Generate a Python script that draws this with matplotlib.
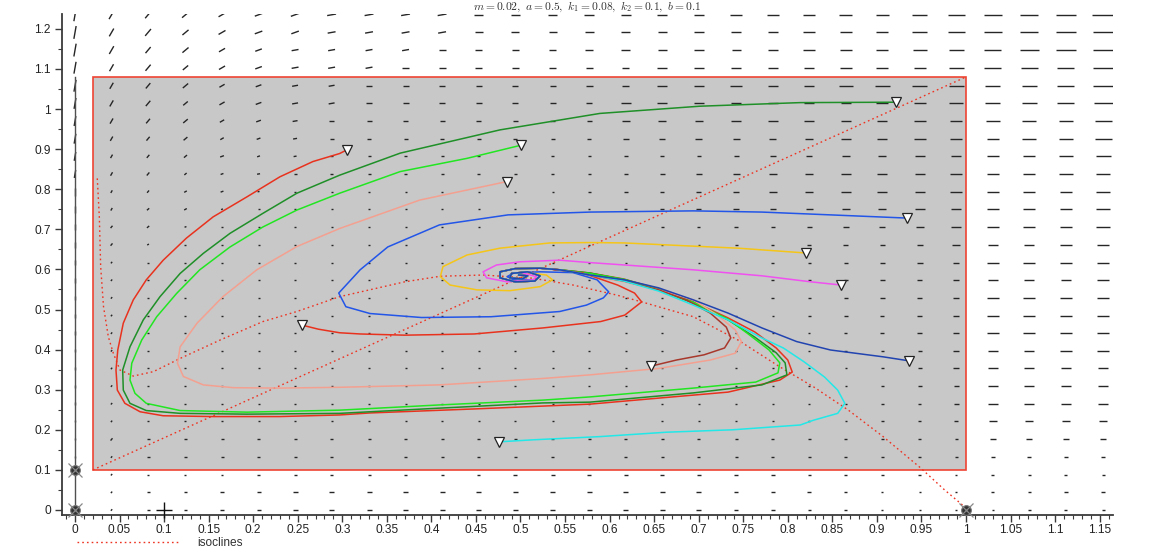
import numpy as np
import matplotlib
matplotlib.use("Agg")
import matplotlib.pyplot as plt
from matplotlib.collections import LineCollection
from matplotlib.lines import Line2D
from matplotlib.patches import Rectangle
from matplotlib.ticker import MultipleLocator, FuncFormatter

plt.rcParams['font.family'] = ['Liberation Sans', 'DejaVu Sans']
plt.rcParams['mathtext.fontset'] = 'cm'

# ---------------- data ----------------
TITLE = r'$m = 0.02,\ a = 0.5,\ k_1 = 0.08,\ k_2 = 0.1,\ b = 0.1$'
LEGEND_LABEL = 'isoclines'

X_TICKS = [0, 0.05, 0.1, 0.15, 0.2, 0.25, 0.3, 0.35, 0.4, 0.45, 0.5, 0.55, 0.6,
           0.65, 0.7, 0.75, 0.8, 0.85, 0.9, 0.95, 1, 1.05, 1.1, 1.15]
Y_TICKS = [0, 0.1, 0.2, 0.3, 0.4, 0.5, 0.6, 0.7, 0.8, 0.9, 1, 1.1, 1.2]

# region box
BOX_X = [0.02, 1.0]
BOX_Y = [0.1, 1.08]

# line at x = 0
VLINE_X = [0, 0]
VLINE_Y = [0, 1.08]

# isoclines
ISO1_X = [0.02, 1.0]
ISO1_Y = [0.1, 1.08]
ISO2_X = [0.025, 0.0273, 0.0288, 0.032, 0.0374, 0.043, 0.0505, 0.0654, 0.0879, 0.118,
          0.163, 0.211, 0.249, 0.297, 0.370, 0.41, 0.458, 0.514, 0.559, 0.608, 0.636,
          0.694, 0.744, 0.791, 0.829, 0.868, 0.907, 0.949, 0.976, 1.0]
ISO2_Y = [0.827, 0.731, 0.607, 0.507, 0.432, 0.391, 0.349, 0.334, 0.345, 0.378,
          0.424, 0.470, 0.495, 0.532, 0.569, 0.583, 0.586, 0.578, 0.561, 0.536, 0.519,
          0.482, 0.424, 0.357, 0.307, 0.249, 0.183, 0.105, 0.05, 0.005]

# shared final spiral near the equilibrium
TAIL_X = [0.544, 0.522, 0.494, 0.477, 0.477, 0.494, 0.516, 0.522, 0.508, 0.490, 0.488, 0.502, 0.508, 0.498]
TAIL_Y = [0.599, 0.603, 0.602, 0.594, 0.579, 0.569, 0.571, 0.584, 0.594, 0.590, 0.579, 0.576, 0.584, 0.586]

RED_A_X = [0.305, 0.297, 0.267, 0.230, 0.193, 0.155, 0.125, 0.099, 0.080, 0.0654, 0.0542, 0.048,
           0.046, 0.0475, 0.056, 0.073, 0.099, 0.155, 0.230, 0.297, 0.331, 0.448, 0.578, 0.655,
           0.733, 0.791, 0.805, 0.800, 0.787, 0.763, 0.733, 0.694, 0.655, 0.616, 0.578]
RED_A_Y = [0.898, 0.889, 0.869, 0.831, 0.781, 0.731, 0.678, 0.623, 0.574, 0.524, 0.466, 0.399,
           0.349, 0.299, 0.266, 0.245, 0.235, 0.233, 0.233, 0.237, 0.242, 0.252, 0.264, 0.279,
           0.294, 0.324, 0.344, 0.374, 0.404, 0.444, 0.479, 0.519, 0.551, 0.576, 0.591]

DKGREEN_X = [0.921, 0.814, 0.701, 0.589, 0.477, 0.365, 0.297, 0.249, 0.211, 0.174, 0.144, 0.118,
             0.0954, 0.0766, 0.0617, 0.0535, 0.0542, 0.0617, 0.080, 0.118, 0.193, 0.297, 0.409,
             0.525, 0.578, 0.694, 0.771, 0.799, 0.797, 0.787, 0.763, 0.733, 0.694, 0.655, 0.617, 0.578]
DKGREEN_Y = [1.017, 1.016, 1.007, 0.989, 0.948, 0.890, 0.835, 0.790, 0.740, 0.690, 0.640, 0.590,
             0.532, 0.474, 0.407, 0.349, 0.299, 0.266, 0.248, 0.241, 0.239, 0.241, 0.254,
             0.267, 0.269, 0.292, 0.312, 0.337, 0.367, 0.392, 0.431, 0.474, 0.516, 0.549, 0.574, 0.591]

GREEN_X = [0.501, 0.440, 0.365, 0.297, 0.249, 0.211, 0.174, 0.140, 0.114, 0.0917, 0.0749, 0.0637,
           0.0617, 0.0673, 0.080, 0.118, 0.193, 0.297, 0.409, 0.525, 0.578, 0.694, 0.764, 0.789,
           0.791, 0.779, 0.755, 0.733, 0.694, 0.655, 0.617, 0.578]
GREEN_Y = [0.910, 0.877, 0.844, 0.790, 0.748, 0.706, 0.656, 0.599, 0.540, 0.482, 0.424, 0.366,
           0.324, 0.291, 0.266, 0.248, 0.244, 0.249, 0.262, 0.274, 0.282, 0.304, 0.319, 0.342,
           0.367, 0.399, 0.440, 0.476, 0.518, 0.550, 0.575, 0.590]

SALMON_X = [0.4845, 0.387, 0.297, 0.249, 0.204, 0.166, 0.137, 0.118, 0.115, 0.1216, 0.144, 0.178,
            0.230, 0.297, 0.409, 0.525, 0.578, 0.655, 0.713, 0.741, 0.748, 0.741, 0.721, 0.694,
            0.655, 0.617, 0.578]
SALMON_Y = [0.819, 0.773, 0.702, 0.657, 0.599, 0.532, 0.466, 0.407, 0.366, 0.333, 0.312, 0.305,
            0.304, 0.306, 0.312, 0.328, 0.337, 0.353, 0.374, 0.391, 0.420, 0.449, 0.486, 0.524,
            0.549, 0.569, 0.584]

MAROON_X = [0.647, 0.675, 0.706, 0.729, 0.736, 0.731, 0.713, 0.686, 0.655, 0.616, 0.578]
MAROON_Y = [0.359, 0.374, 0.387, 0.404, 0.429, 0.456, 0.491, 0.524, 0.549, 0.571, 0.586]

BLUE_X = [0.934, 0.848, 0.771, 0.694, 0.578, 0.486, 0.409, 0.351, 0.320, 0.296, 0.304, 0.331,
          0.389, 0.467, 0.544, 0.574, 0.593, 0.599, 0.586, 0.559, 0.522, 0.492, 0.485, 0.492, 0.514]
BLUE_Y = [0.728, 0.736, 0.743, 0.746, 0.743, 0.736, 0.711, 0.656, 0.599, 0.541, 0.507, 0.490,
          0.480, 0.482, 0.495, 0.511, 0.529, 0.544, 0.574, 0.592, 0.594, 0.591, 0.582, 0.574, 0.574]

YELLOW_X = [0.820, 0.744, 0.694, 0.617, 0.578, 0.533, 0.477, 0.440, 0.413, 0.410, 0.421, 0.451,
            0.488, 0.522, 0.536, 0.529, 0.507]
YELLOW_Y = [0.641, 0.653, 0.658, 0.666, 0.667, 0.666, 0.653, 0.636, 0.607, 0.582, 0.561, 0.549,
            0.547, 0.557, 0.574, 0.586, 0.592]

MAGENTA_X = [0.860, 0.826, 0.771, 0.694, 0.617, 0.578, 0.544, 0.499, 0.473, 0.458, 0.462, 0.485,
             0.514, 0.518, 0.503]
MAGENTA_Y = [0.561, 0.569, 0.584, 0.599, 0.611, 0.617, 0.623, 0.619, 0.611, 0.594, 0.579, 0.569,
             0.574, 0.582, 0.591]

RED_I_X = [0.255, 0.273, 0.297, 0.320, 0.370, 0.448, 0.525, 0.590, 0.617, 0.636, 0.628, 0.609,
           0.570, 0.533]
RED_I_Y = [0.461, 0.451, 0.442, 0.439, 0.436, 0.439, 0.454, 0.470, 0.486, 0.519, 0.541, 0.561,
           0.591, 0.601]

CYAN_X = [0.476, 0.514, 0.589, 0.664, 0.738, 0.814, 0.829, 0.856, 0.864, 0.856, 0.841, 0.818,
          0.795, 0.771, 0.733, 0.694, 0.655, 0.616, 0.578]
CYAN_Y = [0.170, 0.175, 0.183, 0.194, 0.200, 0.212, 0.224, 0.241, 0.266, 0.299, 0.332, 0.370,
          0.404, 0.429, 0.474, 0.511, 0.546, 0.571, 0.586]

NAVY_X = [0.936, 0.907, 0.848, 0.810, 0.771, 0.733, 0.694, 0.655, 0.617, 0.578]
NAVY_Y = [0.372, 0.382, 0.399, 0.420, 0.454, 0.491, 0.524, 0.554, 0.574, 0.586]

# special points
CROSS_PTS_X = [0, 0, 1]
CROSS_PTS_Y = [0, 0.1, 0]
PLUS_X = [0.1]
PLUS_Y = [0]

# direction field: grid, dash lengths (px) and angles (tens of degrees), top row first
FIELD_X = [0, 0.041, 0.082, 0.124, 0.165, 0.206, 0.247, 0.288, 0.330, 0.371, 0.412, 0.453,
           0.494, 0.536, 0.577, 0.618, 0.659, 0.700, 0.742, 0.783, 0.824, 0.865, 0.906, 0.948,
           0.989, 1.030, 1.071, 1.112, 1.154]
FIELD_Y = [0, 0.044, 0.088, 0.132, 0.176, 0.221, 0.265, 0.309, 0.353, 0.397, 0.441, 0.485,
           0.529, 0.573, 0.617, 0.662, 0.706, 0.750, 0.794, 0.838, 0.882, 0.926, 0.970, 1.014,
           1.058, 1.103, 1.147, 1.191, 1.235]
FIELD_LEN = [
    [13,10,9,9,8,8,9,9,9,9,9,9,9,9,10,10,10,10,12,12,12,13,13,15,17,18,18,20,22],
    [13,9,9,8,8,8,8,8,8,8,8,8,8,8,9,9,9,10,10,10,12,12,12,15,17,18,18,20,21],
    [13,9,8,8,7,7,7,7,7,7,7,7,7,7,8,9,9,10,9,10,12,12,12,14,15,17,19,20,21],
    [12,8,8,7,7,7,7,7,7,7,7,7,7,7,7,7,10,10,10,10,10,12,12,12,15,17,17,17,21],
    [12,7,7,7,6,6,6,6,6,6,6,6,6,6,7,7,10,10,12,10,10,14,15,15,15,15,15,17,21],
    [11,7,7,6,6,6,6,6,6,6,6,6,6,6,6,10,10,10,10,10,10,10,12,12,14,15,15,17,19],
    [10,6,6,6,5,5,5,5,5,5,5,5,5,5,5,8,8,8,10,10,10,10,10,12,12,14,14,14,17],
    [10,5,5,5,4,4,4,4,4,4,4,4,4,4,4,6,6,7,7,7,8,10,10,12,12,12,14,14,17],
    [9,4,4,4,4,3,3,3,3,3,3,3,3,3,3,4,4,4,5,6,6,8,8,10,10,12,12,14,15],
    [8,4,4,3,3,3,3,3,3,3,3,3,3,3,3,4,5,6,7,8,8,10,10,10,12,12,12,14,14],
    [8,3,3,3,3,2,2,2,2,2,2,2,2,2,3,4,4,5,6,8,8,10,10,10,12,12,12,12,14],
    [7,3,3,3,2,2,2,2,2,2,2,2,2,2,2,3,4,5,6,6,7,8,8,10,10,12,12,12,14],
    [6,3,3,2,2,2,2,2,2,2,2,2,2,2,2,2,3,3,4,4,5,6,6,8,10,12,12,12,14],
    [6,3,2,2,2,2,2,2,2,2,2,2,2,2,2,2,2,2,3,3,4,5,5,6,8,10,10,12,12],
    [5,2,2,2,2,2,2,2,2,2,2,2,2,2,2,2,2,2,2,3,3,4,5,6,6,12,12,12,12],
    [5,2,2,2,2,2,2,2,2,2,2,2,2,2,2,2,2,2,2,3,3,4,5,5,6,10,10,10,12],
    [4,2,2,2,2,2,2,2,2,2,2,2,2,2,2,2,2,2,2,3,3,4,5,5,6,12,12,12,12],
    [4,2,2,2,2,2,2,2,2,2,2,2,2,2,2,2,2,2,2,2,3,4,4,5,6,12,12,12,12],
    [4,2,2,2,2,2,2,2,2,2,2,2,2,2,2,2,2,2,2,2,2,3,4,5,6,12,12,12,12],
    [3,2,2,2,2,2,2,2,2,2,2,2,2,2,2,2,2,2,2,2,2,3,3,4,6,10,10,12,12],
    [3,2,2,2,2,2,2,2,2,2,2,2,2,2,2,2,2,2,2,2,2,2,3,4,6,10,10,10,10],
    [3,2,2,2,2,2,2,2,2,2,2,2,2,2,2,2,2,2,2,2,2,2,3,4,5,10,10,10,10],
    [3,2,2,2,2,2,2,2,2,2,2,2,2,2,2,2,2,2,2,2,2,2,3,3,5,10,10,10,10],
    [2,2,2,2,2,2,2,2,2,2,2,2,2,2,2,2,2,2,2,2,2,2,3,3,4,8,8,8,8],
    [2,3,3,3,3,3,3,3,3,3,3,3,3,3,3,3,3,3,3,3,3,3,3,3,3,6,6,6,6],
    [2,2,3,3,3,3,3,3,3,3,3,3,3,3,3,3,3,3,3,3,3,3,3,3,3,4,4,4,4],
    [2,2,2,2,2,3,3,3,3,3,3,3,4,4,4,4,4,4,4,4,3,3,3,3,2,3,3,3,3],
    [0,2,3,3,4,4,5,5,5,5,5,5,5,5,5,5,5,5,4,4,4,3,2,2,2,3,3,4,4],
    [0,2,3,3,4,4,5,5,5,5,5,5,5,5,5,5,5,5,4,4,3,3,2,2,2,2,3,3,3],
]
FIELD_ANG = [
    [8,6,5,4,3,2,2,1,1,1,1],
    [8,6,5,4,3,2,2,1,1,1,1],
    [8,6,5,4,3,2,1,1,1,1,0],
    [8,6,5,4,3,2,1,1,1,0,0],
    [8,6,5,4,3,2,1,1,0,0,0],
    [8,6,5,4,3,2,1,1,0,0,0],
    [8,6,5,4,3,2,1,0,0,0,0],
    [8,6,5,4,3,2,1,0,0,0,0],
    [8,6,5,4,2,2,1,0,0,0,0],
    [8,6,5,4,2,1,0,0,0,0,0],
    [9,6,5,3,2,1,0,0,0,0,0],
    [9,6,4,3,2,0,0,0,0,0,0],
    [9,5,4,2,0,0,0,0,0,0,0],
    [9,5,3,0,0,0,0,0,0,0,0],
    [9,5], [9,5], [9,5], [9,5], [9,5], [9,5], [9,5], [9,5],
    [9,5], [9,5], [9,5], [9,5], [9,5], [9,5], [9,5],
]

# ---------------- figure ----------------
W, H = 1169, 547
fig = plt.figure(figsize=(W / 100, H / 100), dpi=100)
fig.patch.set_facecolor('white')
ax = fig.add_axes([62 / W, 32 / H, (1113 - 62) / W, (515 - 14) / H])
XMIN, XMAX = -0.0146, 1.165
YMIN, YMAX = -0.0125, 1.237
ax.set_xlim(XMIN, XMAX)
ax.set_ylim(YMIN, YMAX)
ax.set_facecolor('none')

for s in ['top', 'right']:
    ax.spines[s].set_visible(False)
for s in ['left', 'bottom']:
    ax.spines[s].set_color('#3a3a3a')
    ax.spines[s].set_linewidth(1.3)

ax.set_xticks(X_TICKS)
ax.set_yticks(Y_TICKS)
ax.xaxis.set_minor_locator(MultipleLocator(0.01))
ax.yaxis.set_minor_locator(MultipleLocator(0.05))
fmt = FuncFormatter(lambda v, p: ('%.2f' % v).rstrip('0').rstrip('.'))
ax.xaxis.set_major_formatter(fmt)
ax.yaxis.set_major_formatter(fmt)
ax.tick_params(axis='both', which='major', direction='out', length=5, width=1,
               color='#3a3a3a', labelsize=8.6, labelcolor='#222222')
ax.tick_params(axis='x', which='major', pad=1.2)
ax.tick_params(axis='y', which='major', pad=3)
ax.tick_params(axis='both', which='minor', direction='out', length=3, width=0.8,
               color='#3a3a3a')

# region box
ax.add_patch(Rectangle((BOX_X[0], BOX_Y[0]), BOX_X[1] - BOX_X[0], BOX_Y[1] - BOX_Y[0],
                       facecolor='#c8c8c8', edgecolor='#ee4433', lw=1.2, zorder=1))

# direction field
bbox = ax.get_position()
sx = bbox.width * W / (XMAX - XMIN)
sy = bbox.height * H / (YMAX - YMIN)
segs = []
nrows = len(FIELD_LEN)
for i, row in enumerate(FIELD_LEN):
    y = FIELD_Y[nrows - 1 - i]
    angs = FIELD_ANG[i]
    for j, L in enumerate(row):
        if L <= 0 or j >= len(FIELD_X):
            continue
        th = np.radians(10 * angs[j]) if j < len(angs) else 0.0
        dx = 0.5 * L * np.cos(th) / sx
        dy = 0.5 * L * np.sin(th) / sy
        x = FIELD_X[j]
        segs.append([(x - dx, y - dy), (x + dx, y + dy)])
ax.add_collection(LineCollection(segs, colors='#262626', linewidths=1.0, zorder=2,
                                 capstyle='butt'))

# line at x = 0
ax.plot(VLINE_X, VLINE_Y, color='#505050', lw=1.0, zorder=2)

# isoclines
iso_style = dict(color='#ee3322', lw=1.0, linestyle=(0, (1.2, 2.2)), zorder=3)
ax.plot(ISO1_X, ISO1_Y, **iso_style)
ax.plot(ISO2_X, ISO2_Y, **iso_style)

# trajectories
trajs = [
    (RED_A_X, RED_A_Y, '#e8321e', True),
    (DKGREEN_X, DKGREEN_Y, '#1f8f28', True),
    (GREEN_X, GREEN_Y, '#22e622', True),
    (SALMON_X, SALMON_Y, '#f4a090', True),
    (MAROON_X, MAROON_Y, '#a8382c', True),
    (BLUE_X, BLUE_Y, '#2255e8', False),
    (YELLOW_X, YELLOW_Y, '#f5c518', False),
    (MAGENTA_X, MAGENTA_Y, '#f050f0', False),
    (RED_I_X, RED_I_Y, '#e8321e', True),
    (CYAN_X, CYAN_Y, '#22e8e8', True),
    (NAVY_X, NAVY_Y, '#2244b0', True),
]
for xs, ys, col, tail in trajs:
    X = list(xs) + (TAIL_X if tail else [])
    Y = list(ys) + (TAIL_Y if tail else [])
    ax.plot(X, Y, color=col, lw=1.1, zorder=4, solid_joinstyle='round')
    ax.plot([xs[0]], [ys[0]], marker='v', ms=7, mfc='white', mec='#222222', mew=0.9,
            zorder=6, linestyle='none')

# special points
ax.plot(CROSS_PTS_X, CROSS_PTS_Y, 'o', ms=7, mfc='#333333', mec='#777777', mew=0.8,
        zorder=6, clip_on=False)
ax.plot(CROSS_PTS_X, CROSS_PTS_Y, 'x', ms=10, color='#888888', mew=0.9, zorder=7,
        clip_on=False)
ax.plot(PLUS_X, PLUS_Y, '+', ms=11, color='#111111', mew=1.0, zorder=7, clip_on=False)

# title
fig.text(587.5 / W, 1 - 9.5 / H, TITLE, ha='center', va='baseline', fontsize=8.3,
         color='#333333')

# legend below the axis
fig.add_artist(Line2D([77 / W, 180 / W], [1 - 541.5 / H, 1 - 541.5 / H],
                      transform=fig.transFigure, color='#ee3322', lw=1.0,
                      linestyle=(0, (1.2, 2.2))))
fig.text(197 / W, 1 - 545.5 / H, LEGEND_LABEL, ha='left', va='baseline', fontsize=8.6,
         color='#333333')

fig.savefig('out.png', dpi=100)
